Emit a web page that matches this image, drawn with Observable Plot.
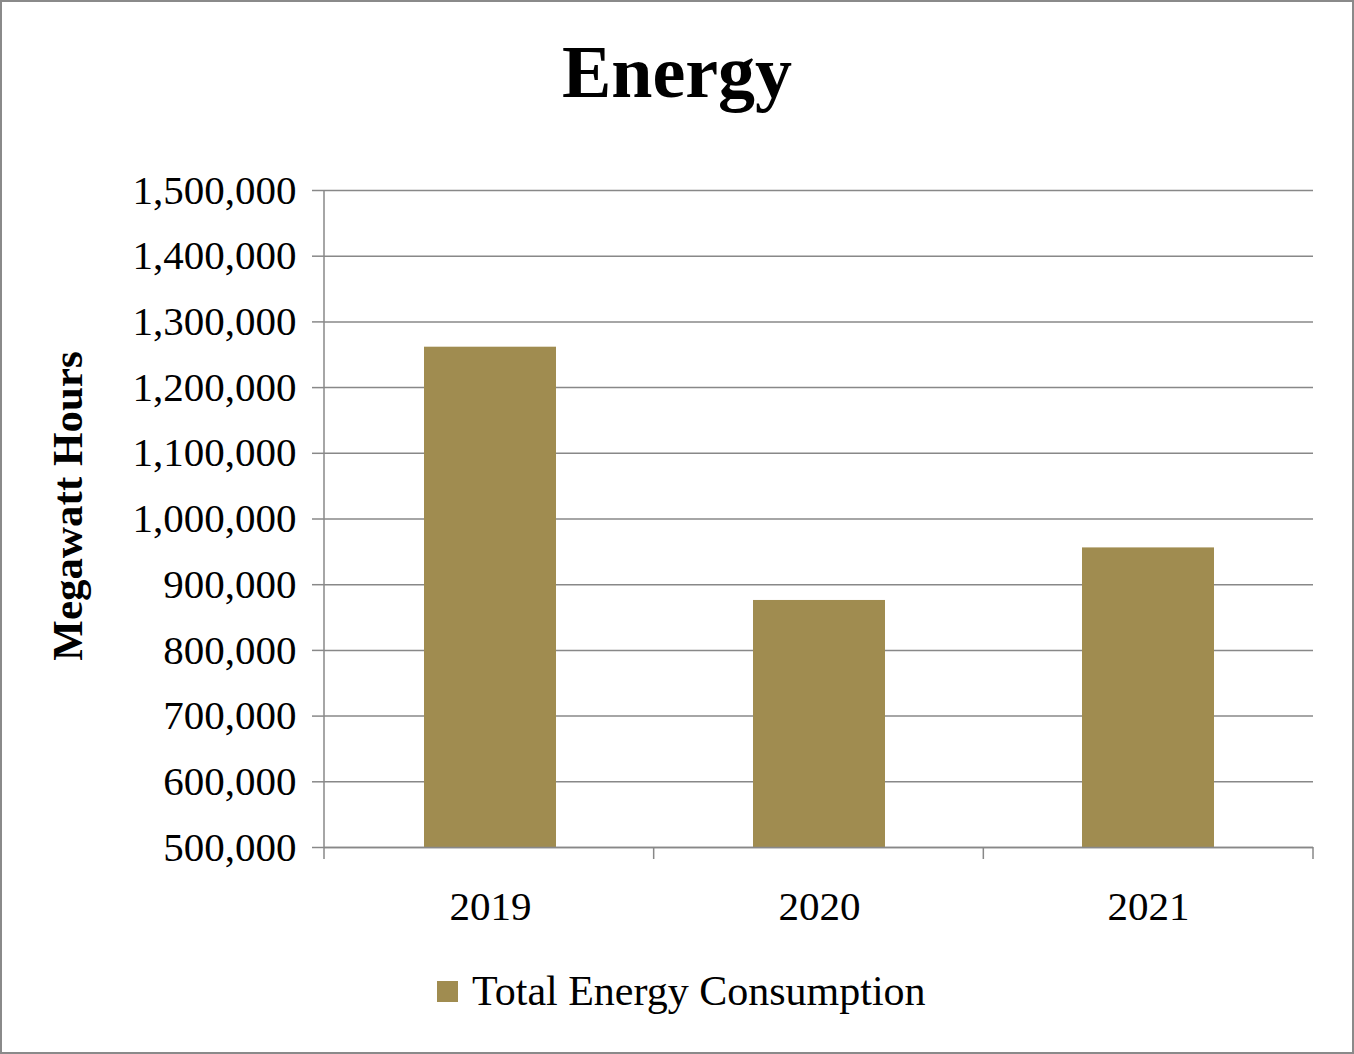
<!DOCTYPE html>
<html>
<head>
<meta charset="utf-8">
<script src="https://cdn.jsdelivr.net/npm/d3@7"></script>
<script src="https://cdn.jsdelivr.net/npm/@observablehq/plot@0.6"></script>
<style>
  html, body { margin: 0; padding: 0; background: #fff; }
  #wrap { position: relative; width: 1354px; height: 1054px; overflow: hidden; font-family: "Liberation Serif", "Times New Roman", serif; color: #000; }
  #border { position: absolute; left: 0; top: 0; width: 1354px; height: 1054px; box-sizing: border-box; border: 2px solid #8a8a8a; pointer-events: none; }
  #title { position: absolute; left: 0; width: 1354px; top: 35px; text-align: center; font-weight: bold; font-size: 74px; line-height: 74px; }
  #ylabel { position: absolute; left: 67px; top: 506px; transform: translate(-50%, -50%) rotate(-90deg); white-space: nowrap; font-weight: bold; font-size: 43px; line-height: 43px; }
  #chart { position: absolute; left: 0; top: 150px; }
  #legend { position: absolute; left: 437px; top: 970px; display: flex; align-items: center; font-size: 42px; line-height: 42px; white-space: nowrap; }
  #legend .sw { width: 21px; height: 21px; margin-right: 14px; }
</style>
</head>
<body>
<div id="wrap">
  <div id="title"></div>
  <div id="ylabel"></div>
  <div id="chart"></div>
  <div id="legend"></div>
  <div id="border"></div>
</div>
<script>
// ---- data ----
const titleText = "Energy";
const yAxisTitle = "Megawatt Hours";
const seriesName = "Total Energy Consumption";
const years = ["2019", "2020", "2021"];
const consumption = [1261500, 876000, 956000];
const yTicks = [500000, 600000, 700000, 800000, 900000, 1000000, 1100000, 1200000, 1300000, 1400000, 1500000];

// ---- styles ----
const barColor = "#A08C50";
const gridColor = "#888888";

const data = years.map((year, i) => ({year, value: consumption[i]}));
const yMin = yTicks[0];
const yMax = yTicks[yTicks.length - 1];

document.getElementById("title").textContent = titleText;
document.getElementById("ylabel").textContent = yAxisTitle;
const legend = document.getElementById("legend");
legend.innerHTML = `<div class="sw" style="background:${barColor}"></div><span></span>`;
legend.querySelector("span").textContent = seriesName;

// custom axis lines: left axis line and category boundary ticks on the bottom axis
function axisFrame(index, scales, values, dims) {
  const {marginLeft, marginRight, width} = dims;
  const y = scales.y;
  const g = d3.create("svg:g").attr("stroke", gridColor).attr("stroke-width", 1.5);
  const yTop = y(yMax), yBot = y(yMin);
  g.append("line").attr("x1", marginLeft).attr("x2", marginLeft).attr("y1", yTop).attr("y2", yBot);
  const n = years.length;
  const w = width - marginLeft - marginRight;
  for (let k = 0; k <= n; k++) {
    const xx = marginLeft + k * w / n;
    g.append("line").attr("x1", xx).attr("x2", xx).attr("y1", yBot).attr("y2", yBot + 12);
  }
  return g.node();
}

const plot = Plot.plot({
  width: 1354,
  height: 780,
  marginTop: 40,
  marginBottom: 83,
  marginLeft: 324,
  marginRight: 41,
  style: {fontFamily: '"Liberation Serif", "Times New Roman", serif', fontSize: "40px", background: "transparent", color: "#000", overflow: "visible"},
  x: {domain: years, paddingInner: 0.6, paddingOuter: 0.3, axis: null},
  y: {domain: [yMin, yMax], axis: null},
  marks: [
    Plot.ruleY(yTicks, {stroke: gridColor, strokeWidth: 1.5}),
    Plot.barY(data, {x: "year", y1: () => yMin, y2: "value", fill: barColor}),
    Plot.ruleY([yMin], {stroke: gridColor, strokeWidth: 1.5}),
    Plot.axisY({ticks: yTicks, tickSize: 12, tickPadding: 16, tickFormat: d3.format(","), stroke: gridColor, strokeWidth: 1.5, fill: "#000", fontSize: 41, label: null}),
    Plot.axisX({tickSize: 0, tickPadding: 43, fill: "#000", fontSize: 41, label: null}),
    axisFrame
  ]
});
document.getElementById("chart").appendChild(plot);
</script>
</body>
</html>
